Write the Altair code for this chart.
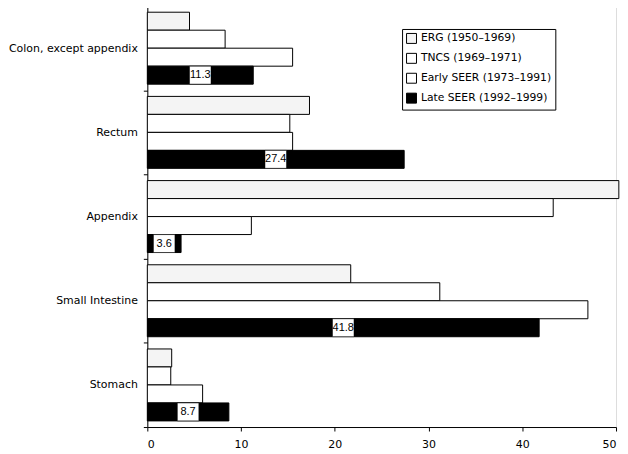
import altair as alt
import pandas as pd

sites = ["Colon, except appendix", "Rectum", "Appendix", "Small Intestine", "Stomach"]
series = ["ERG (1950–1969)", "TNCS (1969–1971)", "Early SEER (1973–1991)", "Late SEER (1992–1999)"]
erg = [4.5, 17.3, 50.3, 21.7, 2.6]
tncs = [8.3, 15.2, 43.3, 31.2, 2.5]
early = [15.5, 15.5, 11.1, 47.0, 5.9]
late = [11.3, 27.4, 3.6, 41.8, 8.7]

rows = []
for i, s in enumerate(sites):
    for name, vals in zip(series, [erg, tncs, early, late]):
        rows.append({"site": s, "series": name, "value": vals[i]})
df = pd.DataFrame(rows)

y_enc = alt.Y("site:N", sort=sites, title=None,
              scale=alt.Scale(paddingInner=0, paddingOuter=0),
              axis=alt.Axis(tickBand="extent", tickSize=4, labelPadding=6,
                            labelFont="DejaVu Sans", labelFontSize=11, labelColor="black",
                            domainColor="black", tickColor="black", labelLimit=300,
                            minExtent=139, maxExtent=139))
yoff_enc = alt.YOffset("series:N", sort=series,
                       scale=alt.Scale(paddingInner=0, paddingOuter=0.34))
x_enc = alt.X("value:Q", title=None,
              scale=alt.Scale(domain=[0, 50], nice=False),
              axis=alt.Axis(values=[0, 10, 20, 30, 40, 50], grid=False, tickSize=4,
                            labelPadding=8, labelFont="DejaVu Sans", labelFontSize=11,
                            labelColor="black", domainColor="black", tickColor="black"))

bars = alt.Chart(df).mark_bar(stroke="black", strokeWidth=1, clip=False).encode(
    x=x_enc,
    y=y_enc,
    yOffset=yoff_enc,
    fill=alt.Fill("series:N", sort=series,
                  scale=alt.Scale(domain=series, range=["#f4f4f4", "white", "white", "black"]),
                  legend=alt.Legend(title=None, orient="none", legendX=256, legendY=23,
                                    symbolType="square", symbolSize=100,
                                    symbolStrokeColor="black", symbolStrokeWidth=1,
                                    labelFont="DejaVu Sans", labelFontSize=10.8,
                                    labelColor="black", rowPadding=5, padding=4,
                                    strokeColor="black", fillColor="white", labelLimit=300)),
)

lab = df[df["series"] == series[3]].copy()
lab["mid"] = lab["value"] / 2
lab["txt"] = lab["value"].map(lambda v: f"{v:.1f}")

boxes = alt.Chart(lab).mark_point(
    shape="M-1.2,-1L1.2,-1L1.2,1L-1.2,1Z", size=324, filled=True,
    fill="white", stroke="black", strokeWidth=0.5, opacity=1
).encode(
    x=alt.X("mid:Q"),
    y=alt.Y("site:N", sort=sites),
    yOffset=alt.YOffset("series:N", sort=series),
)

texts = alt.Chart(lab).mark_text(
    font="Liberation Sans", fontSize=11, color="black"
).encode(
    x=alt.X("mid:Q"),
    y=alt.Y("site:N", sort=sites),
    yOffset=alt.YOffset("series:N", sort=series),
    text="txt:N",
)

chart = alt.layer(bars, boxes, texts).properties(
    width=471, height=423,
    padding={"top": -9, "bottom": 0, "left": 0, "right": 0}
).configure_view(stroke=None).configure(background="white")

chart.save("out.html", embed_options={"renderer": "svg", "actions": False})
